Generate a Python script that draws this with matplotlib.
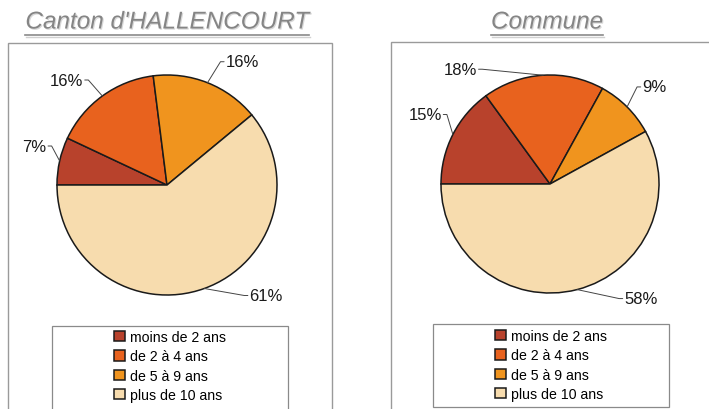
import numpy as np
import matplotlib
matplotlib.use("Agg")
import matplotlib.pyplot as plt
from matplotlib.patches import Rectangle
from matplotlib.lines import Line2D
import matplotlib.patheffects as pe

plt.rcParams['font.family'] = ['Liberation Sans', 'DejaVu Sans']

# donnees
categories = ["moins de 2 ans", "de 2 à 4 ans", "de 5 à 9 ans", "plus de 10 ans"]
canton_vals = [7, 16, 16, 61]
commune_vals = [15, 18, 9, 58]
titles = ["Canton d'HALLENCOURT", "Commune"]
colors = ["#b8422c", "#e8621e", "#f0941e", "#f7dcae"]

W, H = 709, 410
fig = plt.figure(figsize=(W / 100, H / 100), dpi=100)
fig.patch.set_facecolor("white")


def px(x, y):
    # pixels (origine en haut a gauche) -> fraction de figure
    return x / W, 1 - y / H


def add_pie(cx, cy, r, vals, offsets):
    ax = fig.add_axes([(cx - r) / W, 1 - (cy + r) / H, 2 * r / W, 2 * r / H])
    wedges, _ = ax.pie(vals, colors=colors, startangle=180, counterclock=False,
                       radius=1, wedgeprops=dict(edgecolor="#1a1a1a", linewidth=1.1))
    ax.set_xlim(-1, 1)
    ax.set_ylim(-1, 1)
    ax.axis("off")
    for w, v, (dx, dy) in zip(wedges, vals, offsets):
        th = np.deg2rad((w.theta1 + w.theta2) / 2)
        xy = (np.cos(th), np.sin(th))
        left = dx < 0
        ax.annotate("%d%%" % v, xy=xy, xytext=(dx, dy), textcoords="offset pixels",
                    ha="right" if left else "left", va="center", fontsize=12,
                    color="#1a1a1a", annotation_clip=False,
                    arrowprops=dict(arrowstyle="-", color="#444444", lw=0.7,
                                    shrinkA=1, shrinkB=0, patchA=None,
                                    relpos=(1, 0.5) if left else (0, 0.5),
                                    connectionstyle="arc,angleA=%d,angleB=0,armA=5,armB=0,rad=0"
                                    % (0 if left else 180)))
    return wedges


def add_frame(x0, y0, x1, y1, lw=1.0, color="#9a9a9a"):
    fx0, fy1 = px(x0, y0)
    fx1, fy0 = px(x1, y1)
    fig.patches.append(Rectangle((fx0, fy0), fx1 - fx0, fy1 - fy0, transform=fig.transFigure,
                                 fill=False, edgecolor=color, linewidth=lw, zorder=0))


def add_title(text, cx, cy):
    fx, fy = px(cx, cy)
    t = fig.text(fx, fy, text, ha="center", va="center", fontsize=17.5, style="italic",
                 color="#858585",
                 path_effects=[pe.withSimplePatchShadow(offset=(0.8, -0.8), shadow_rgbFace="#d8d8d8", alpha=1)])
    r = fig.canvas.get_renderer()
    bb = t.get_window_extent(r).transformed(fig.transFigure.inverted())
    uy = bb.y0 - 1.5 / H
    fig.lines.append(Line2D([bb.x0, bb.x1], [uy, uy], transform=fig.transFigure,
                            color="#8a8a8a", lw=1.2))
    fig.lines.append(Line2D([bb.x0 + 1 / W, bb.x1 + 1 / W], [uy - 2 / H, uy - 2 / H],
                            transform=fig.transFigure, color="#d0d0d0", lw=1.0))


# cadres
add_frame(8, 44, 332, 416)
add_frame(391, 43, 715, 416)
add_frame(52, 327, 288, 416, lw=0.9, color="#8a8a8a")
add_frame(433, 325, 669, 408, lw=0.9, color="#8a8a8a")

add_title(titles[0], 167, 23)
add_title(titles[1], 547, 23)

w1 = add_pie(167, 186, 110, canton_vals, [(-13, 15), (-19, 16), (18, 21), (45, -7)])
w2 = add_pie(550, 185, 109, commune_vals, [(-11, 20), (-66, 6), (15, 20), (47, -9)])

for cx, cy in [(170, 367), (551, 366)]:
    fx, fy = px(cx, cy)
    fig.legend(w1, categories, loc="center", bbox_to_anchor=(fx, fy), frameon=False,
               fontsize=10.2, handlelength=0.75, handleheight=0.75, handletextpad=0.35,
               labelspacing=0.38, borderpad=0.2)

fig.savefig("out.png", dpi=100)
